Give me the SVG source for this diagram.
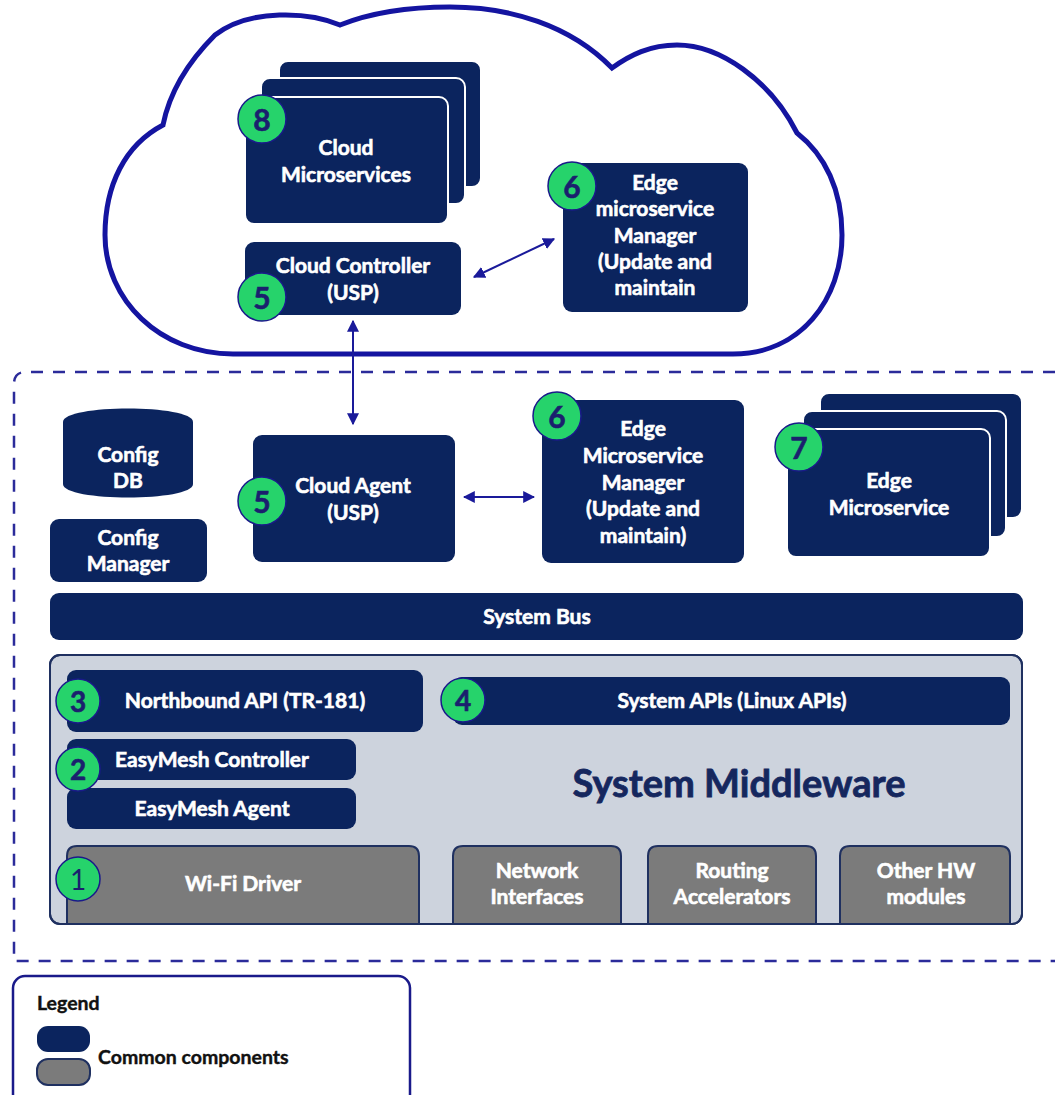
<svg xmlns="http://www.w3.org/2000/svg" width="1055" height="1095" viewBox="0 0 1055 1095">
<defs>
<style>
.nv{fill:#0b245e}
.gr{fill:#7b7b7b;stroke:#1f3060;stroke-width:2}
.st{fill:#0b245e;stroke:#ffffff;stroke-width:2}
.t{font-family:Lato,"Open Sans",sans-serif;font-weight:bold;font-size:21px;fill:#ffffff;stroke:#ffffff;stroke-width:0.6;text-anchor:middle;dominant-baseline:central}
.bd{fill:#26d36b;stroke:#1a1a8a;stroke-width:1.5}
.bn{font-family:Lato,"Open Sans",sans-serif;font-weight:bold;font-size:30px;fill:#1b1f6e;stroke:#1b1f6e;stroke-width:0.6;text-anchor:middle;dominant-baseline:central}
.bs{font-size:28px}
.lg{font-family:Lato,"Open Sans",sans-serif;font-weight:bold;font-size:19.5px;fill:#111111;stroke:#111111;stroke-width:0.4;dominant-baseline:central}
.ar{stroke:#1a1a9a;stroke-width:2;fill:none}
</style>
<marker id="ah" viewBox="0 0 10 10" refX="9" refY="5" markerWidth="6" markerHeight="6" orient="auto-start-reverse" markerUnits="strokeWidth">
<path d="M0,0 L10,5 L0,10 Z" fill="#1a1a9a"/>
</marker>
</defs>
<rect width="1055" height="1095" fill="#ffffff"/>

<g id="cloud">
<path d="M233,354 L733,354 C800,354 842,300 842,235 C842,190 825,155 797,133 C770,80 720,45 677,45 C650,45 630,55 612,68 C570,25 510,7 450,7 C400,7 365,15 340,25 C310,12 250,8 215,35 C190,60 170,90 163,125 C125,145 105,185 105,235 C105,300 160,354 233,354 Z" fill="#ffffff" stroke="#1414a0" stroke-width="5"/>
</g>

<g id="edge-boundary">
<path d="M1055,372 L26,372 Q14,372 14,384 L14,961 L1055,961" fill="none" stroke="#2b2b9a" stroke-width="2.5" stroke-dasharray="12,10"/>
</g>

<g id="cloud-microservices">
<rect class="st" x="279" y="61" width="202" height="126" rx="9"/>
<rect class="st" x="261" y="78" width="204" height="126" rx="9"/>
<rect class="st" x="245" y="97" width="203" height="127" rx="9"/>
<text class="t" x="346" y="146">Cloud</text>
<text class="t" x="346" y="173">Microservices</text>
<circle class="bd" cx="262" cy="119" r="24"/><text class="bn" x="262" y="119">8</text>
</g>

<g id="cloud-controller">
<rect class="nv" x="245" y="242" width="216" height="73" rx="9"/>
<text class="t" x="353" y="264">Cloud Controller</text>
<text class="t" x="353" y="291">(USP)</text>
<circle class="bd" cx="262" cy="297" r="24"/><text class="bn" x="262" y="297">5</text>
</g>

<g id="cloud-edge-manager">
<rect class="nv" x="563" y="163" width="185" height="149" rx="9"/>
<text class="t" x="655" y="181">Edge</text>
<text class="t" x="655" y="207">microservice</text>
<text class="t" x="655" y="234">Manager</text>
<text class="t" x="655" y="260">(Update and</text>
<text class="t" x="655" y="286">maintain</text>
<circle class="bd" cx="572" cy="186" r="24"/><text class="bn" x="572" y="186">6</text>
</g>

<g id="config-db">
<path class="nv" d="M63,422 C63,404 193,404 193,422 L193,484 C193,502 63,502 63,484 Z"/>
<text class="t" x="128" y="453">Config</text>
<text class="t" x="128" y="479">DB</text>
</g>

<g id="config-manager">
<rect class="nv" x="50" y="519" width="157" height="63" rx="9"/>
<text class="t" x="128" y="536">Config</text>
<text class="t" x="128" y="562">Manager</text>
</g>

<g id="cloud-agent">
<rect class="nv" x="253" y="435" width="202" height="127" rx="9"/>
<text class="t" x="353" y="484">Cloud Agent</text>
<text class="t" x="353" y="511">(USP)</text>
<circle class="bd" cx="262" cy="501" r="24"/><text class="bn" x="262" y="501">5</text>
</g>

<g id="edge-manager">
<rect class="nv" x="542" y="400" width="202" height="163" rx="9"/>
<text class="t" x="643" y="427">Edge</text>
<text class="t" x="643" y="454">Microservice</text>
<text class="t" x="643" y="481">Manager</text>
<text class="t" x="643" y="507">(Update and</text>
<text class="t" x="643" y="534">maintain)</text>
<circle class="bd" cx="557" cy="416" r="24"/><text class="bn" x="557" y="416">6</text>
</g>

<g id="edge-microservice">
<rect class="st" x="820" y="393" width="202" height="125" rx="9"/>
<rect class="st" x="803" y="411" width="203" height="126" rx="9"/>
<rect class="st" x="787" y="429" width="203" height="128" rx="9"/>
<text class="t" x="889" y="479">Edge</text>
<text class="t" x="889" y="506">Microservice</text>
<circle class="bd" cx="799" cy="447" r="24"/><text class="bn" x="799" y="447">7</text>
</g>

<g id="system-bus">
<rect class="nv" x="50" y="593" width="973" height="47" rx="9"/>
<text class="t" x="537" y="615">System Bus</text>
</g>

<g id="system-middleware">
<rect x="50" y="655" width="972" height="269" rx="10" fill="#cdd3dd" stroke="#1f3060" stroke-width="2"/>
<text x="739" y="782" font-family="Lato,'Open Sans',sans-serif" font-weight="bold" font-size="38" fill="#15275e" stroke="#15275e" stroke-width="0.8" text-anchor="middle" dominant-baseline="central">System Middleware</text>
</g>

<g id="northbound-api">
<rect class="nv" x="67" y="670" width="356" height="62" rx="9"/>
<text class="t" x="245" y="699">Northbound API (TR-181)</text>
<circle class="bd" cx="78" cy="701" r="22"/><text class="bn bs" x="78" y="701">3</text>
</g>

<g id="easymesh-controller">
<rect class="nv" x="67" y="739" width="289" height="41" rx="9"/>
<text class="t" x="212" y="758">EasyMesh Controller</text>
</g>

<g id="easymesh-agent">
<rect class="nv" x="67" y="788" width="289" height="41" rx="9"/>
<text class="t" x="212" y="807">EasyMesh Agent</text>
</g>
<g id="badge-2">
<circle class="bd" cx="78" cy="769" r="22"/><text class="bn bs" x="78" y="769">2</text>
</g>

<g id="system-apis">
<rect class="nv" x="453" y="677" width="557" height="48" rx="9"/>
<text class="t" x="732" y="699">System APIs (Linux APIs)</text>
<circle class="bd" cx="463" cy="700" r="22"/><text class="bn bs" x="463" y="700">4</text>
</g>

<g id="wifi-driver">
<path class="gr" d="M67,924 L67,856 Q67,846 77,846 L409,846 Q419,846 419,856 L419,924"/>
<text class="t" x="243" y="882">Wi-Fi Driver</text>
<circle class="bd" cx="78" cy="879" r="22"/><text x="78" y="879" font-family="Lato,'Open Sans',sans-serif" font-size="28" fill="#1b1f6e" text-anchor="middle" dominant-baseline="central">1</text>
</g>

<g id="network-interfaces">
<path class="gr" d="M453,924 L453,856 Q453,846 463,846 L611,846 Q621,846 621,856 L621,924"/>
<text class="t" x="537" y="869">Network</text>
<text class="t" x="537" y="895">Interfaces</text>
</g>

<g id="routing-accelerators">
<path class="gr" d="M648,924 L648,856 Q648,846 658,846 L806,846 Q816,846 816,856 L816,924"/>
<text class="t" x="732" y="869">Routing</text>
<text class="t" x="732" y="895">Accelerators</text>
</g>

<g id="other-hw">
<path class="gr" d="M840,924 L840,856 Q840,846 850,846 L1000,846 Q1010,846 1010,856 L1010,924"/>
<text class="t" x="926" y="869">Other HW</text>
<text class="t" x="926" y="895">modules</text>
</g>
<rect x="50" y="655" width="972" height="269" rx="10" fill="none" stroke="#1f3060" stroke-width="2"/>

<g id="connectors">
<line class="ar" x1="474" y1="277" x2="554" y2="239" marker-start="url(#ah)" marker-end="url(#ah)"/>
<line class="ar" x1="353" y1="321" x2="353" y2="424" marker-start="url(#ah)" marker-end="url(#ah)"/>
<line class="ar" x1="464" y1="497" x2="534" y2="497" marker-start="url(#ah)" marker-end="url(#ah)"/>
</g>

<g id="legend">
<rect x="13" y="976" width="397" height="140" rx="12" fill="#ffffff" stroke="#1a1a8a" stroke-width="2.5"/>
<text class="lg" x="37" y="1002">Legend</text>
<rect x="37" y="1026" width="53" height="26" rx="11" class="nv"/>
<rect x="37" y="1059" width="53" height="26" rx="11" fill="#7b7b7b" stroke="#1f3060" stroke-width="2"/>
<text class="lg" x="98" y="1056">Common components</text>
</g>
</svg>
